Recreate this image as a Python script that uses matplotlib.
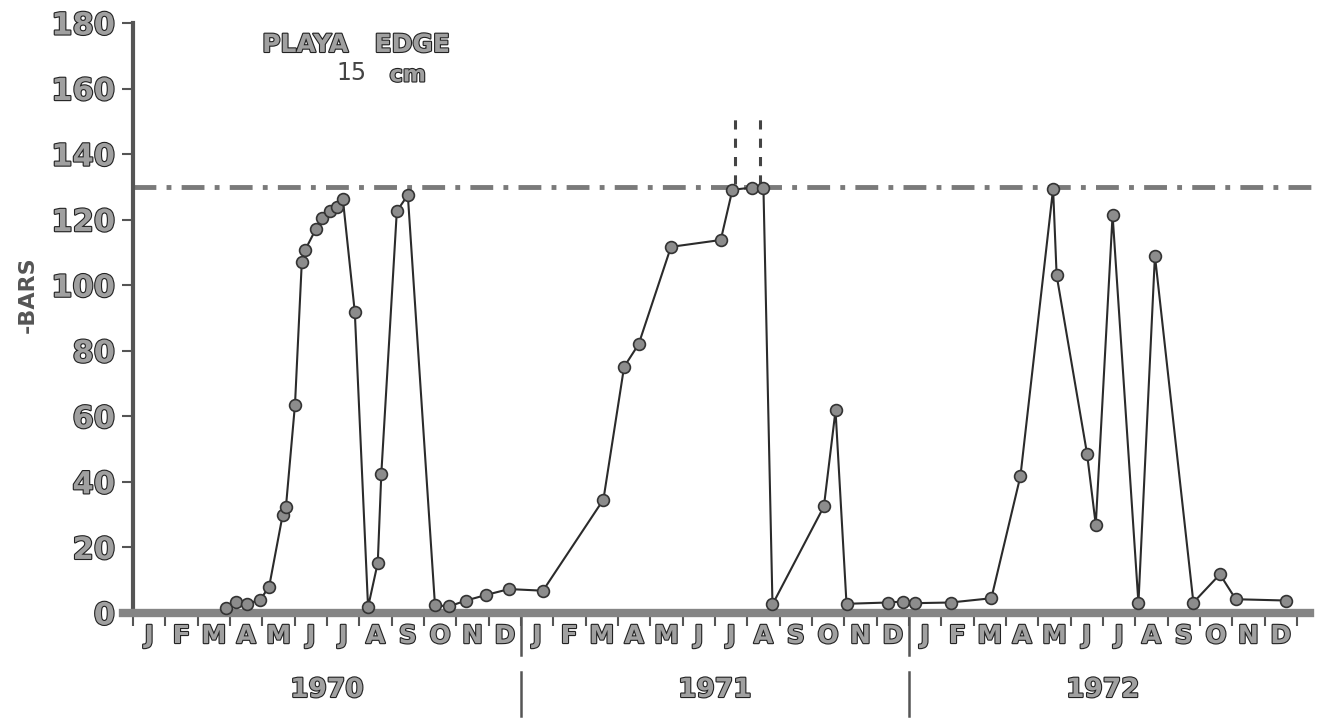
import numpy as np
import matplotlib
matplotlib.use('Agg')
import matplotlib.pyplot as plt
import matplotlib.patheffects as pe

# months counted from 1 Jan 1970
months = [2.88, 3.19, 3.52, 3.93, 4.21, 4.63, 4.73, 5.01, 5.22, 5.32,
          5.65, 5.85, 6.09, 6.30, 6.49, 6.86, 7.27, 7.57, 7.68, 8.16,
          8.50, 9.34, 9.77, 10.30, 10.92, 11.63, 12.68, 14.55, 15.19, 15.64,
          16.64, 18.18, 18.54, 19.14, 19.50, 19.78, 21.37, 21.73, 22.07, 23.35,
          23.81, 24.20, 25.29, 26.55, 27.45, 28.46, 28.57, 29.51, 29.78, 30.30,
          31.10, 31.61, 32.80, 33.62, 34.11, 35.68]
bars = [1.5, 3.4, 2.8, 4.0, 8.0, 30.0, 32.4, 63.6, 107.0, 110.7,
        117.0, 120.5, 122.6, 124.0, 126.3, 91.8, 1.8, 15.3, 42.5, 122.6,
        127.5, 2.4, 2.0, 3.8, 5.5, 7.3, 6.8, 34.6, 75.1, 82.0,
        111.7, 113.8, 129.1, 129.8, 129.8, 2.6, 32.5, 61.8, 2.8, 3.2,
        3.5, 3.0, 3.2, 4.5, 41.8, 129.4, 103.0, 48.6, 26.9, 121.4,
        3.0, 109.0, 3.2, 11.8, 4.2, 3.8]

limit_bars = 130
offscale_months = [18.62, 19.39]
offscale_top = 153

month_letters = ['J', 'F', 'M', 'A', 'M', 'J', 'J', 'A', 'S', 'O', 'N', 'D'] * 3
years = ['1970', '1971', '1972']
yticks = list(range(0, 181, 20))

#------------------------------------------------------------------------------
outline = [pe.withStroke(linewidth=1.6, foreground='#222222')]
grey_txt = '#a0a0a0'

fig = plt.figure(figsize=(13.29, 7.21), dpi=100)
ax = fig.add_axes([0.1001, 0.1498, 0.8903, 0.8183])
ax.set_xlim(0, 36.6)
ax.set_ylim(0, 180)

for s in ['top', 'right']:
    ax.spines[s].set_visible(False)
ax.spines['left'].set_bounds(0, 180)
ax.spines['left'].set_linewidth(3)
ax.spines['left'].set_color('#555555')
ax.spines['bottom'].set_bounds(-0.3, 36.4)
ax.spines['bottom'].set_linewidth(6)
ax.spines['bottom'].set_color('#858585')

# y axis
ax.set_yticks(yticks)
ax.set_yticklabels([str(v) for v in yticks])
ax.tick_params(axis='y', direction='out', length=8, width=1.5, color='#555555',
               pad=5, labelsize=22, labelcolor=grey_txt)
for t in ax.get_yticklabels():
    t.set_path_effects(outline)
    t.set_fontweight('bold')
ax.set_ylabel('-BARS', fontsize=16, fontweight='bold', color='#555555')
ax.yaxis.set_label_coords(-0.0803, 0.539)

# month boundaries and month letters
ax.set_xticks(np.arange(0, 37))
ax.set_xticklabels([])
ax.tick_params(axis='x', which='major', direction='out', length=9, width=1.5,
               color='#555555')
ax.set_xticks(np.arange(36) + 0.5, minor=True)
ax.set_xticklabels(month_letters, minor=True)
ax.tick_params(axis='x', which='minor', length=0, pad=8, labelsize=18,
               labelcolor=grey_txt)
for t in ax.get_xticklabels(minor=True):
    t.set_path_effects(outline)
    t.set_fontweight('bold')

# year separators and year labels
trans = ax.get_xaxis_transform()
for k in [12, 24]:
    ax.plot([k, k], [0, -0.072], transform=trans, color='#555555', lw=1.8,
            clip_on=False)
    ax.plot([k, k], [-0.10, -0.175], transform=trans, color='#555555', lw=1.8,
            clip_on=False)
for i, yr in enumerate(years):
    ax.text(i * 12 + 6, -0.1305, yr, transform=trans, ha='center', va='center',
            fontsize=19, fontweight='bold', color=grey_txt, path_effects=outline)

# limit line and off-scale marks
ax.axhline(limit_bars, xmin=0, xmax=1, color='#7a7a7a', lw=3.5,
           linestyle=(0, (4.7, 2.1, 1.0, 2.1)), zorder=2)
ax.vlines(offscale_months, limit_bars + 1, offscale_top, color='#444444', lw=2.2,
          linestyles=(0, (3, 3)), zorder=2)

# data
ax.plot(months, bars, color='#2b2b2b', lw=1.5, marker='o', ms=8.5,
        mfc='#8c8c8c', mec='#333333', mew=1.2, zorder=4, clip_on=False)

# titles
ax.text(6.9, 173.3, 'PLAYA   EDGE', ha='center', va='center', fontsize=18,
        fontweight='bold', color=grey_txt, path_effects=outline)
ax.text(6.75, 164.8, '15', ha='center', va='center', fontsize=17,
        color='#444444')
ax.text(8.5, 164.0, 'cm', ha='center', va='center', fontsize=16,
        fontweight='bold', color=grey_txt, path_effects=outline)

plt.savefig('out.png', dpi=100)
